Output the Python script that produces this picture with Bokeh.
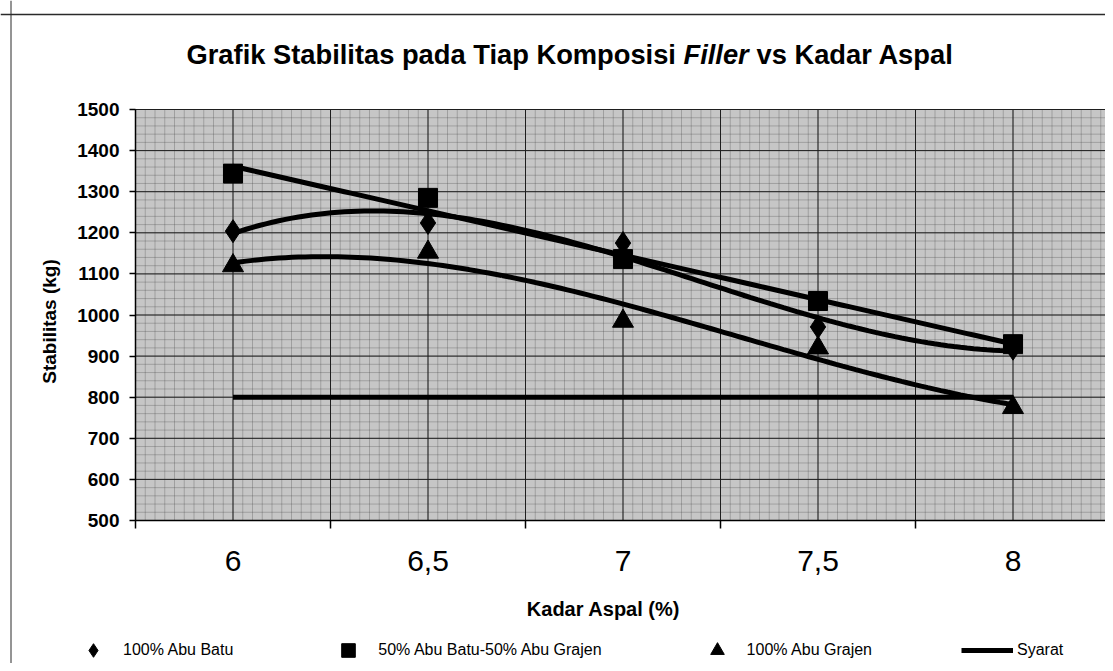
import numpy as np
from bokeh.plotting import figure
from bokeh.models import (Range1d, FixedTicker, Label, Legend, LegendItem, Span, BoxAnnotation)
from bokeh.embed import file_html
from bokeh.resources import INLINE

# ---- data ----
kadar_aspal = [6.0, 6.5, 7.0, 7.5, 8.0]
x_tick_labels = ["6", "6,5", "7", "7,5", "8"]
y_ticks = [500, 600, 700, 800, 900, 1000, 1100, 1200, 1300, 1400, 1500]
abu_batu = [1204, 1224, 1175, 971, 918]          # 100% Abu Batu
campuran = [1344, 1285, 1136, 1034, 929]         # 50% Abu Batu-50% Abu Grajen
abu_grajen = [1120, 1153, 985, 920, 775]         # 100% Abu Grajen
syarat = [800, 800, 800, 800, 800]               # Syarat

series_names = ["100% Abu Batu", "50% Abu Batu-50% Abu Grajen", "100% Abu Grajen", "Syarat"]
title_parts = ["Grafik Stabilitas pada Tiap Komposisi", "Filler", "vs Kadar Aspal"]
x_title = "Kadar Aspal (%)"
y_title = "Stabilitas (kg)"

FONT = "Liberation Sans"
BORDER = "#2a2a2a"

# ---- layout geometry (pixels) ----
W, H = 1105, 663
PLOT_L, PLOT_T, PLOT_B = 135, 109, 520      # plot-area edges
X0, X1 = 5.75, 8.25                          # category band edges
Y0, Y1 = 500, 1500
PX_X = 390.0                                 # px per x unit
PX_Y = (PLOT_B - PLOT_T) / (Y1 - Y0)         # px per y unit


def xd(px):
    return X0 + (px - PLOT_L) / PX_X


def yd(py):
    return Y0 + (PLOT_B - py) / PX_Y


p = figure(width=W, height=H, x_range=Range1d(xd(0), xd(W)), y_range=Range1d(yd(H), yd(0)),
           title=None, output_backend="svg", toolbar_location=None, min_border=0)
p.background_fill_color = "white"
p.border_fill_color = "white"
p.outline_line_color = None
p.grid.visible = False

# plot area background + outline
p.add_layout(BoxAnnotation(left=X0, right=X1, bottom=Y0, top=Y1, fill_color="#c6c6c6",
                           fill_alpha=1, line_color="#222222", line_width=1, level="image"))

# grid lines restricted to the plot area (from the tick positions)
gx_major = np.arange(X0, X1 + 1e-6, 0.25)
gx_minor = np.arange(X0, X1 + 1e-6, 0.025)
gy_major = np.array(y_ticks, dtype=float)
gy_minor = np.arange(Y0, Y1 + 1, 20, dtype=float)
minor_kw = dict(line_color="#3c3c3c", line_alpha=0.55, line_width=1, line_dash="1 1", level="underlay")
major_kw = dict(line_color="#1e1e1e", line_width=1, level="underlay")
p.segment(x0=gx_minor, y0=Y0, x1=gx_minor, y1=Y1, **minor_kw)
p.segment(x0=X0, y0=gy_minor, x1=X1, y1=gy_minor, **minor_kw)
p.segment(x0=gx_major, y0=Y0, x1=gx_major, y1=Y1, **major_kw)
p.segment(x0=X0, y0=gy_major, x1=X1, y1=gy_major, **major_kw)

# outer chart border (top and left)
p.add_layout(Span(location=yd(14), dimension="width", line_color=BORDER, line_width=1.5))
p.add_layout(Span(location=xd(10.5), dimension="height", line_color=BORDER, line_width=1))

# axes placed at the plot-area edges
xa = p.xaxis[0]
xa.fixed_location = Y0
xa.bounds = (X0, X1)
xa.ticker = FixedTicker(ticks=kadar_aspal, minor_ticks=[5.75, 6.25, 6.75, 7.25, 7.75, 8.25])
xa.major_label_overrides = {k: v for k, v in zip(kadar_aspal, x_tick_labels)}
xa.major_tick_line_color = None
xa.minor_tick_in = 0
xa.minor_tick_out = 8
xa.minor_tick_line_color = "black"
xa.minor_tick_line_width = 1.5
xa.axis_line_color = "black"
xa.axis_line_width = 1.5
xa.major_label_text_font = FONT
xa.major_label_text_font_size = "30px"
xa.major_label_text_color = "black"
xa.major_label_standoff = 22

ya = p.yaxis[0]
ya.fixed_location = X0
ya.bounds = (Y0, Y1)
ya.ticker = FixedTicker(ticks=y_ticks)
ya.major_tick_in = 0
ya.major_tick_out = 6
ya.major_tick_line_color = "black"
ya.major_tick_line_width = 1.5
ya.minor_tick_line_color = None
ya.axis_line_color = "black"
ya.axis_line_width = 1.5
ya.major_label_text_font = FONT
ya.major_label_text_font_size = "19px"
ya.major_label_text_font_style = "bold"
ya.major_label_text_color = "black"
ya.major_label_standoff = 10

# trend lines (fits of the plotted data)
xs = np.linspace(kadar_aspal[0], kadar_aspal[-1], 120)
fit1 = np.polyval(np.polyfit(kadar_aspal, abu_batu, 3), xs)
fit2 = np.polyval(np.polyfit(kadar_aspal, campuran, 1), xs)
fit3 = np.polyval(np.polyfit(kadar_aspal, abu_grajen, 3), xs)

r1 = p.scatter(kadar_aspal, abu_batu, marker="diamond", size=23, color="black")
r2 = p.scatter(kadar_aspal, campuran, marker="square", size=19, color="black")
r3 = p.scatter(kadar_aspal, abu_grajen, marker="triangle", size=21, color="black")
r4 = p.line(kadar_aspal, syarat, line_color="black", line_width=5)
p.line(xs, fit1, line_color="black", line_width=5)
p.line(xs, fit2, line_color="black", line_width=5)
p.line(xs, fit3, line_color="black", line_width=5)

# titles
tkw = dict(x_units="screen", y_units="screen", text_font=FONT, text_font_size="27.3px",
           text_font_style="bold", text_color="black", text_baseline="alphabetic")
p.add_layout(Label(x=186, y=H - 54, text=title_parts[0], **tkw))
p.add_layout(Label(x=683, y=H - 54, text=title_parts[1], **dict(tkw, text_font_style="bold italic")))
p.add_layout(Label(x=756, y=H - 54, text=title_parts[2], **tkw))

p.add_layout(Label(x=603, y=H - 608, text=x_title, x_units="screen", y_units="screen",
                   text_font=FONT, text_font_size="20px", text_font_style="bold",
                   text_align="center", text_baseline="alphabetic", text_color="black"))
p.add_layout(Label(x=49, y=H - 321, text=y_title, x_units="screen", y_units="screen",
                   angle=np.pi / 2, text_font=FONT, text_font_size="19px", text_font_style="bold",
                   text_align="center", text_baseline="middle", text_color="black"))

legend = Legend(items=[LegendItem(label=series_names[0], renderers=[r1]),
                       LegendItem(label=series_names[1], renderers=[r2]),
                       LegendItem(label=series_names[2], renderers=[r3]),
                       LegendItem(label=series_names[3], renderers=[r4])],
                location=(67, -4), orientation="horizontal",
                glyph_width=52, glyph_height=34, label_height=34, label_standoff=4,
                spacing=89, padding=0, margin=0,
                border_line_color=None, background_fill_alpha=0,
                label_text_font=FONT, label_text_font_size="16px", label_text_color="black")
p.add_layout(legend, "center")

open("out.html", "w").write(file_html(p, INLINE))
